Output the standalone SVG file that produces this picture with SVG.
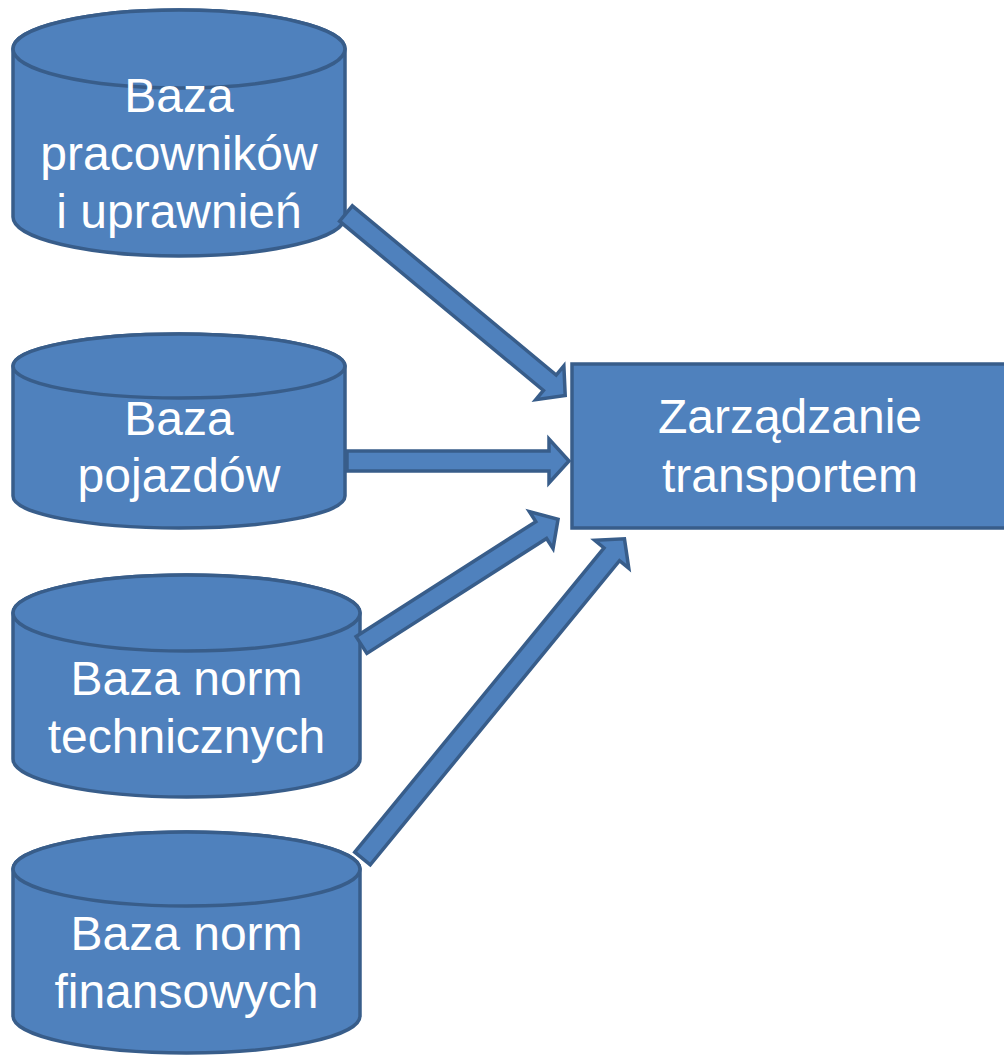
<svg xmlns="http://www.w3.org/2000/svg" width="1004" height="1057" viewBox="0 0 1004 1057">
<style>
.shape{fill:#4f81bd;stroke:#385d8a;stroke-width:3.5;stroke-linejoin:miter}
.lbl{font-family:"Liberation Sans",Arial,sans-serif;font-size:48px;fill:#ffffff;text-anchor:middle}
</style>
<rect x="0" y="0" width="1004" height="1057" fill="#ffffff"/>
<g id="node-pracownicy">
<path class="shape" d="M13,49 A166,39 0 0 1 345,49 V217 A166,39 0 0 1 13,217 Z"/>
<ellipse class="shape" cx="179" cy="49" rx="166" ry="39"/>
<text class="lbl" x="179" y="112">Baza</text>
<text class="lbl" x="179" y="170">pracowników</text>
<text class="lbl" x="179" y="228">i uprawnień</text>
</g>
<g id="node-pojazdy">
<path class="shape" d="M13,366 A166,32 0 0 1 345,366 V496 A166,32 0 0 1 13,496 Z"/>
<ellipse class="shape" cx="179" cy="366" rx="166" ry="32"/>
<text class="lbl" x="179" y="435">Baza</text>
<text class="lbl" x="179" y="492">pojazdów</text>
</g>
<g id="node-techniczne">
<path class="shape" d="M13,613 A173.5,38 0 0 1 360,613 V759 A173.5,38 0 0 1 13,759 Z"/>
<ellipse class="shape" cx="186.5" cy="613" rx="173.5" ry="38"/>
<text class="lbl" x="186.5" y="695">Baza norm</text>
<text class="lbl" x="186.5" y="753">technicznych</text>
</g>
<g id="node-finansowe">
<path class="shape" d="M13,869 A173.5,37 0 0 1 360,869 V1016 A173.5,37 0 0 1 13,1016 Z"/>
<ellipse class="shape" cx="186.5" cy="869" rx="173.5" ry="37"/>
<text class="lbl" x="186.5" y="950">Baza norm</text>
<text class="lbl" x="186.5" y="1008">finansowych</text>
</g>
<g id="node-zarzadzanie">
<rect class="shape" x="572" y="364" width="436" height="164"/>
<text class="lbl" x="790" y="433">Zarządzanie</text>
<text class="lbl" x="790" y="492">transportem</text>
</g>
<g id="connectors">
<path class="shape" transform="translate(346,213.5) rotate(39.7)" d="M0,-10 H264.9 V-22 L284.9,0 L264.9,22 V10 H0 Z"/>
<path class="shape" transform="translate(347,461)" d="M0,-10 H202 V-22 L222,0 L202,22 V10 H0 Z"/>
<path class="shape" transform="translate(361.5,645) rotate(-32.6)" d="M0,-10 H213.3 V-22 L233.3,0 L213.3,22 V10 H0 Z"/>
<path class="shape" transform="translate(362.5,858.5) rotate(-50.67)" d="M0,-10 H393.3 V-22 L413.3,0 L393.3,22 V10 H0 Z"/>
</g>
</svg>
